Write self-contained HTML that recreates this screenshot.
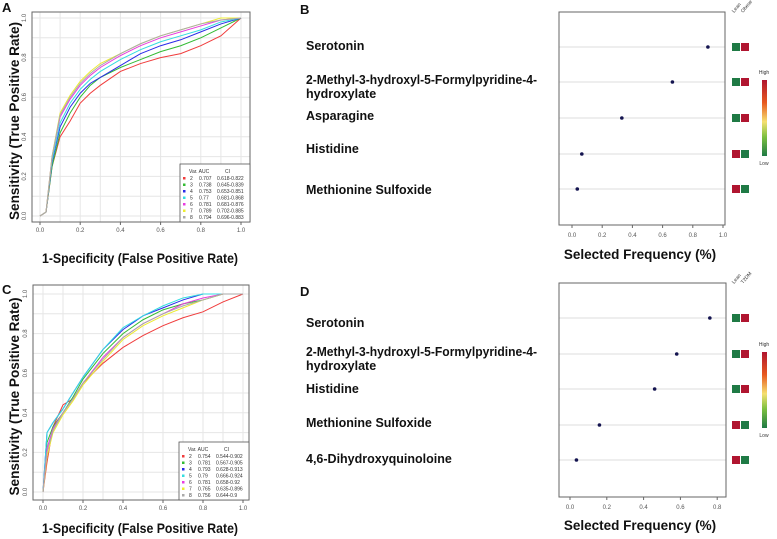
<!DOCTYPE html>
<html><head><meta charset="utf-8"><style>
body{margin:0;background:#fff;}
svg{display:block;font-family:"Liberation Sans",sans-serif;}
.b{font-weight:bold;}
</style></head><body>
<svg id="fig" width="777" height="539" viewBox="0 0 777 539" xmlns="http://www.w3.org/2000/svg"></svg>
<script>
// ---- Panel A data (ROC) ----
const fprA = [0,0.03,0.06,0.1,0.15,0.2,0.25,0.3,0.4,0.5,0.6,0.7,0.8,0.9,1.0];
const tprA2 = [0,0.02,0.25,0.40,0.48,0.57,0.62,0.66,0.73,0.77,0.80,0.82,0.86,0.91,1];
const tprA3 = [0,0.02,0.25,0.42,0.52,0.60,0.66,0.70,0.75,0.79,0.83,0.86,0.90,0.95,1];
const tprA4 = [0,0.02,0.27,0.45,0.55,0.62,0.67,0.70,0.76,0.82,0.86,0.89,0.93,0.97,1];
const tprA5 = [0,0.02,0.28,0.47,0.57,0.64,0.69,0.73,0.79,0.84,0.88,0.91,0.94,0.98,1];
const tprA6 = [0,0.02,0.30,0.50,0.59,0.66,0.71,0.75,0.81,0.86,0.90,0.93,0.96,0.99,1];
const tprA7 = [0,0.02,0.30,0.52,0.61,0.68,0.73,0.77,0.82,0.87,0.91,0.94,0.97,1,1];
const tprA8 = [0,0.02,0.30,0.51,0.60,0.67,0.72,0.76,0.82,0.87,0.91,0.94,0.97,0.99,1];
// ---- Panel C data (ROC) ----
const fprC = [0,0.02,0.05,0.1,0.15,0.2,0.3,0.4,0.5,0.6,0.7,0.8,0.9,1.0];
const tprC2 = [0,0.15,0.33,0.44,0.47,0.55,0.65,0.73,0.79,0.84,0.88,0.91,0.96,1];
const tprC3 = [0,0.25,0.33,0.40,0.48,0.57,0.70,0.80,0.87,0.92,0.95,0.97,1,1];
const tprC4 = [0,0.30,0.35,0.42,0.50,0.58,0.72,0.82,0.89,0.93,0.97,1,1,1];
const tprC5 = [0,0.30,0.35,0.42,0.50,0.58,0.72,0.83,0.89,0.94,0.98,1,1,1];
const tprC6 = [0,0.22,0.32,0.40,0.47,0.55,0.68,0.78,0.85,0.90,0.95,0.98,1,1];
const tprC7 = [0,0.18,0.30,0.39,0.46,0.54,0.66,0.77,0.84,0.89,0.93,0.97,1,1];
const tprC8 = [0,0.20,0.31,0.40,0.47,0.55,0.67,0.78,0.85,0.90,0.94,0.97,1,1];
const legVars = ["2","3","4","5","6","7","8"];
const aucA = ["0.707","0.738","0.753","0.77","0.781","0.789","0.794"];
const ciA = ["0.618-0.822","0.645-0.839","0.653-0.851","0.681-0.868","0.681-0.876","0.702-0.885","0.696-0.883"];
const aucC = ["0.754","0.781","0.793","0.79","0.781","0.765","0.756"];
const ciC = ["0.544-0.902","0.567-0.905","0.628-0.913","0.666-0.924","0.658-0.92","0.635-0.896","0.644-0.9"];
const rocTicks = ["0.0","0.2","0.4","0.6","0.8","1.0"];
// ---- Panel B / D data ----
const namesB = [["Serotonin"],["2-Methyl-3-hydroxyl-5-Formylpyridine-4-","hydroxylate"],["Asparagine"],["Histidine"],["Methionine Sulfoxide"]];
const freqB = [0.90,0.665,0.33,0.065,0.035];
const heatB = [["g","r"],["g","r"],["g","r"],["r","g"],["r","g"]];
const ticksB = ["0.0","0.2","0.4","0.6","0.8","1.0"];
const namesD = [["Serotonin"],["2-Methyl-3-hydroxyl-5-Formylpyridine-4-","hydroxylate"],["Histidine"],["Methionine Sulfoxide"],["4,6-Dihydroxyquinoloine"]];
const freqD = [0.76,0.58,0.46,0.16,0.035];
const heatD = [["g","r"],["g","r"],["g","r"],["r","g"],["r","g"]];
const ticksD = ["0.0","0.2","0.4","0.6","0.8"];

const colors = ["#f03c3c","#33bb33","#2a2ae8","#33dde0","#e83ce0","#ecec30","#aaaaaa"];
const NS="http://www.w3.org/2000/svg";
const svg=document.getElementById('fig');
function mk(tag,attrs,parent,text){const e=document.createElementNS(NS,tag);for(const k in attrs)e.setAttribute(k,attrs[k]);if(text!==undefined)e.textContent=text;(parent||svg).appendChild(e);return e;}

function roc(opt){
  const g=mk('g',{});
  
  
  const sx=v=>opt.x0+v*(opt.x1-opt.x0), sy=v=>opt.y0+v*(opt.y1-opt.y0);
  for(let i=0;i<=10;i++){
    const v=i/10;
    const gl=mk('line',{x1:sx(v),x2:sx(v),y1:opt.by0,y2:opt.by1,stroke:'#e6e6e6','stroke-width':1},g);
    
    
    const gl2=mk('line',{x1:opt.bx0,x2:opt.bx1,y1:sy(v),y2:sy(v),stroke:'#e6e6e6','stroke-width':1},g);
    
    
  }
  opt.series.forEach((s,i)=>{
    const pl=mk('polyline',{points:opt.fpr.map((f,j)=>sx(f)+','+sy(s[j])).join(' '),fill:'none',stroke:colors[i],'stroke-width':1},g);
    
    
  });
  const box=mk('rect',{x:opt.bx0,y:opt.by0,width:opt.bx1-opt.bx0,height:opt.by1-opt.by0,fill:'none',stroke:'#666','stroke-width':1},g);
  
  
  rocTicks.forEach((t,i)=>{
    const v=i/5;
    const tx=mk('text',{x:sx(v),y:opt.by1+10,'font-size':6,fill:'#555','text-anchor':'middle'},g,t);
    
    
    mk('line',{x1:sx(v),x2:sx(v),y1:opt.by1,y2:opt.by1+3,stroke:'#666'},g);
    const ty=mk('text',{x:opt.bx0-6,y:sy(v),'font-size':6,fill:'#555','text-anchor':'middle',transform:`rotate(-90 ${opt.bx0-6} ${sy(v)})`},g,t);
    
    
  });
  const lx=opt.bx1-70, ly=opt.by1-58;
  const lg=mk('g',{},g);
  
  
  mk('rect',{x:lx,y:ly,width:70,height:58,fill:'#fff',stroke:'#555','stroke-width':0.8},lg);
  mk('text',{x:lx+9,y:ly+9,'font-size':5,fill:'#333'},lg,'Var. AUC');
  mk('text',{x:lx+45,y:ly+9,'font-size':5,fill:'#333'},lg,'CI');
  legVars.forEach((v,i)=>{
    const yy=ly+16+i*6.5;
    mk('rect',{x:lx+3,y:yy-3,width:2.5,height:2.5,fill:colors[i]},lg);
    const le=mk('text',{x:lx+10,y:yy,'font-size':5,fill:'#333'},lg,v);
    
    
    mk('text',{x:lx+19,y:yy,'font-size':5,fill:'#333'},lg,opt.auc[i]);
    mk('text',{x:lx+37,y:yy,'font-size':5,fill:'#333'},lg,opt.ci[i]);
  });
  const cy=(opt.by0+opt.by1)/2+4;
  const yl=mk('text',{x:opt.ylx,y:cy,'font-size':14,'text-anchor':'middle',class:'b',fill:'#111',transform:`rotate(-90 ${opt.ylx} ${cy})`,textLength:198,lengthAdjust:'spacingAndGlyphs'},g,'Sensitivity (True Positive Rate)');
  
  
  const xl=mk('text',{x:140,y:opt.xly,'font-size':14,'text-anchor':'middle',class:'b',fill:'#111',textLength:196,lengthAdjust:'spacingAndGlyphs'},g,'1-Specificity (False Positive Rate)');
  
  
}

roc({name:'roc-chart-a',x0:40,x1:241,y0:216,y1:18,bx0:32,bx1:250,by0:12,by1:222,fpr:fprA,
  series:[tprA2,tprA3,tprA4,tprA5,tprA6,tprA7,tprA8],auc:aucA,ci:ciA,ylx:19,xly:263});
roc({name:'roc-chart-c',x0:43,x1:243,y0:492,y1:294,bx0:33,bx1:249,by0:285,by1:500,fpr:fprC,
  series:[tprC2,tprC3,tprC4,tprC5,tprC6,tprC7,tprC8],auc:aucC,ci:ciC,ylx:19,xly:533});

function dot(opt){
  const g=mk('g',{});
  
  
  const sx=v=>opt.x0+v*opt.scale;
  opt.freq.forEach((f,i)=>{
    const y=opt.rows[i];
    const gl=mk('line',{x1:opt.bx0,x2:opt.bx1,y1:y,y2:y,stroke:'#dcdcdc','stroke-width':1},g);
    
    
    const c=mk('circle',{cx:sx(f),cy:y,r:1.8,fill:'#141450'},g);
    
    
    opt.heat[i].forEach((h,k)=>{
      const r=mk('rect',{x:732+k*9,y:y-4,width:8,height:8,fill:h==='g'?'#1f7a45':'#b01530'},g);
      
      
    });
  });
  opt.names.forEach((n,i)=>{
    n.forEach((line,k)=>{
      const a={x:306,y:opt.ny[i]+4+k*14,'font-size':12.5,class:'b',fill:'#111'};
      if(line.length>30){a.textLength=231;a.lengthAdjust='spacingAndGlyphs';}
      const t=mk('text',a,g,line);
      
      
    });
  });
  const box=mk('rect',{x:opt.bx0,y:opt.by0,width:opt.bx1-opt.bx0,height:opt.by1-opt.by0,fill:'none',stroke:'#666','stroke-width':1},g);
  
  
  opt.ticks.forEach((t,i)=>{
    const v=i*0.2;
    mk('line',{x1:sx(v),x2:sx(v),y1:opt.by1,y2:opt.by1+3,stroke:'#666'},g);
    const tx=mk('text',{x:sx(v),y:opt.by1+12,'font-size':6,fill:'#555','text-anchor':'middle'},g,t);
    
    
  });
  const xl=mk('text',{x:640,y:opt.xly,'font-size':13.5,class:'b',fill:'#111','text-anchor':'middle'},g,'Selected Frequency (%)');
  
  
  opt.groups.forEach((gname,k)=>{
    const x=734+k*9,y=opt.by0+1;
    const h=mk('text',{x:x,y:y,'font-size':5,fill:'#333',transform:`rotate(-50 ${x} ${y})`},g,gname);
    
    
  });
  const id='cb'+opt.name;
  const defs=mk('defs',{},g);
  const lgr=mk('linearGradient',{id:id,x1:0,y1:0,x2:0,y2:1},defs);
  [['0','#b01530'],['0.3','#e85a20'],['0.55','#f5e070'],['0.75','#7cc040'],['1','#1f7a45']].forEach(s=>mk('stop',{offset:s[0],'stop-color':s[1]},lgr));
  const cb=mk('rect',{x:762,y:opt.cb0,width:5,height:76,fill:`url(#${id})`},g);
  
  
  mk('text',{x:764,y:opt.cb0-6,'font-size':5,fill:'#333','text-anchor':'middle'},g,'High');
  mk('text',{x:764,y:opt.cb0+85,'font-size':5,fill:'#333','text-anchor':'middle'},g,'Low');
}

dot({name:'frequency-chart-b',x0:572,scale:151,bx0:559,bx1:725,by0:12,by1:225,rows:[47,82,118,154,189],
  freq:freqB,heat:heatB,names:namesB,ny:[46,80,116,149,190],ticks:ticksB,xly:259,groups:['Lean','Obese'],cb0:80});
dot({name:'frequency-chart-d',x0:570,scale:184,bx0:559,bx1:726,by0:283,by1:497,rows:[318,354,389,425,460],
  freq:freqD,heat:heatD,names:namesD,ny:[323,352,389,423,459],ticks:ticksD,xly:530,groups:['Lean','T2DM'],cb0:352});

[['A',2,12],['B',300,14],['C',2,294],['D',300,296]].forEach(p=>{
  const t=mk('text',{x:p[1],y:p[2],'font-size':13,class:'b',fill:'#111'},svg,p[0]);
  
  
});
</script>
</body></html>
